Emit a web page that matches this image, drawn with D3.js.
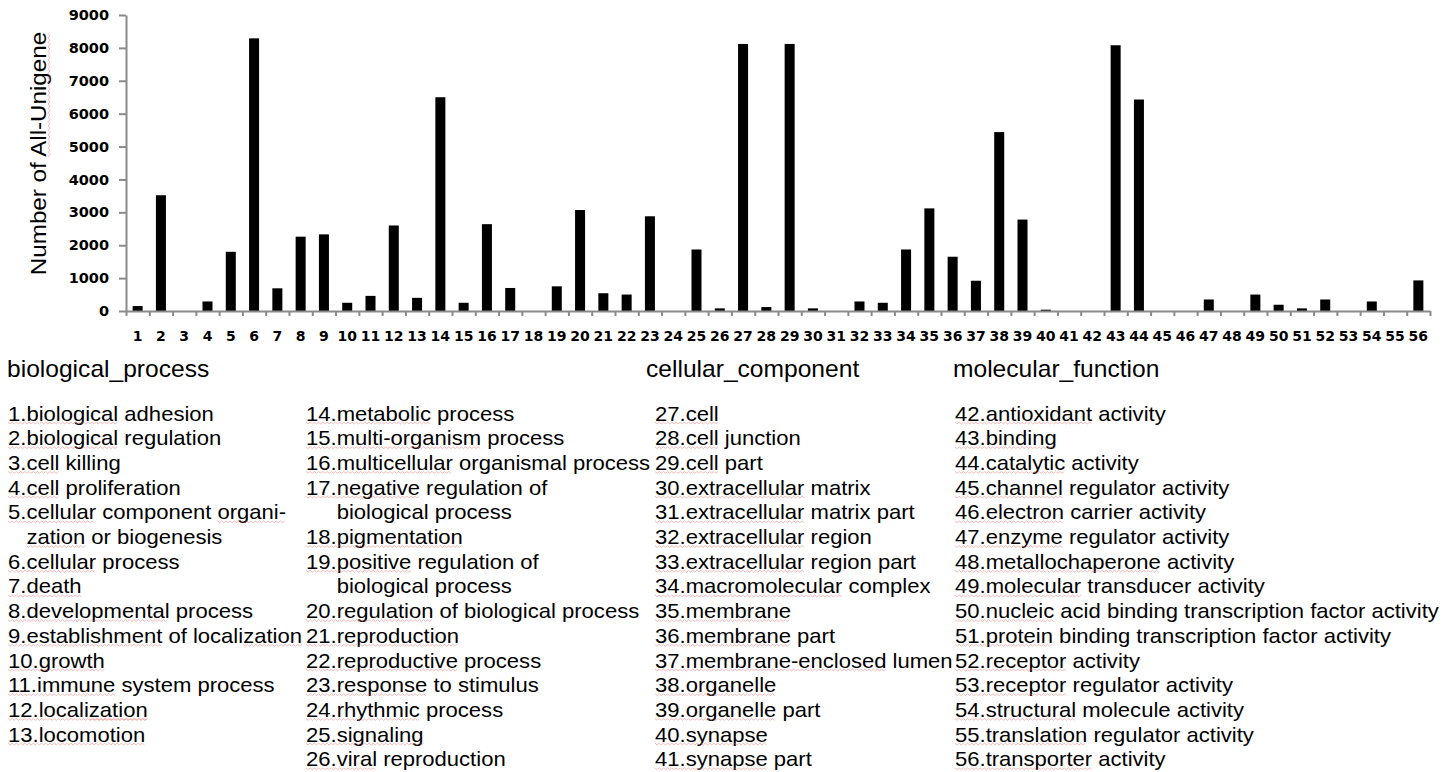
<!DOCTYPE html>
<html><head><meta charset="utf-8">
<script src="https://cdn.jsdelivr.net/npm/d3@7"></script>
<style>body{margin:0;background:#fff} svg{display:block}</style>
</head><body><svg id="c" width="1456" height="772"></svg>
<script>
const categories = d3.range(1, 57).map(String);
const values = [150,3520,0,290,1800,8290,690,2260,2330,250,
                460,2600,400,6500,250,2640,700,0,750,3070,
                540,500,2880,0,1870,80,8120,120,8120,80,
                0,290,250,1870,3120,1650,920,5440,2780,40,
                0,0,8080,6430,0,0,350,0,500,190,
                80,350,0,290,0,930];
const yTicks = [0,1000,2000,3000,4000,5000,6000,7000,8000,9000];
const yLabel = "Number of All-Unigene";
const groupTitles = ["biological_process","cellular_component","molecular_function"];
const bpTerms = ["biological adhesion","biological regulation","cell killing","cell proliferation",
  "cellular component organi-\nzation or biogenesis","cellular process","death","developmental process",
  "establishment of localization","growth","immune system process","localization","locomotion",
  "metabolic process","multi-organism process","multicellular organismal process",
  "negative regulation of\nbiological process","pigmentation","positive regulation of\nbiological process",
  "regulation of biological process","reproduction","reproductive process","response to stimulus",
  "rhythmic process","signaling","viral reproduction"];
const ccTerms = ["cell","cell junction","cell part","extracellular matrix","extracellular matrix part",
  "extracellular region","extracellular region part","macromolecular complex","membrane","membrane part",
  "membrane-enclosed lumen","organelle","organelle part","synapse","synapse part"];
const mfTerms = ["antioxidant activity","binding","catalytic activity","channel regulator activity",
  "electron carrier activity","enzyme regulator activity","metallochaperone activity",
  "molecular transducer activity","nucleic acid binding transcription factor activity",
  "protein binding transcription factor activity","receptor activity","receptor regulator activity",
  "structural molecule activity","translation regulator activity","transporter activity"];
const extraUnderline = ["organi-","zation"];

const svg = d3.select("#c");
const m = {left:126, right:1430, top:15, bottom:311};
const x = d3.scaleBand().domain(categories).range([m.left, m.right]).paddingInner(0.57).paddingOuter(0.285);
const y = d3.scaleLinear().domain([0, 9000]).range([m.bottom, m.top]);
const xb = d3.scaleLinear().domain([0, categories.length]).range([m.left, m.right]);
const axisColor = "#8a8a8a";

// bars
svg.append("g").selectAll("rect").data(values).join("rect")
  .attr("x", (d, i) => x(categories[i]))
  .attr("width", x.bandwidth())
  .attr("y", d => y(d))
  .attr("height", d => y(0) - y(d))
  .attr("fill", "#000");

// y axis
const gy = svg.append("g").attr("transform", `translate(${m.left},0)`)
  .call(d3.axisLeft(y).tickValues(yTicks).tickSize(7).tickSizeOuter(0).tickPadding(10).tickFormat(d3.format("d")));
gy.select(".domain").attr("stroke", axisColor).attr("stroke-width", 2);
gy.selectAll(".tick line").attr("stroke", axisColor).attr("stroke-width", 2);
gy.selectAll(".tick text").attr("font-family", "DejaVu Sans").attr("font-weight", "bold")
  .attr("font-size", 14.5).attr("fill", "#000");

// x axis: ticks at band boundaries
const gxt = svg.append("g").attr("transform", `translate(0,${m.bottom})`)
  .call(d3.axisBottom(xb).tickValues(d3.range(categories.length + 1)).tickSize(5).tickSizeOuter(0).tickFormat(""));
gxt.select(".domain").attr("stroke", axisColor).attr("stroke-width", 2);
gxt.selectAll(".tick line").attr("stroke", axisColor).attr("stroke-width", 2);
// x labels
const gx = svg.append("g").attr("transform", `translate(0,${m.bottom})`)
  .call(d3.axisBottom(x).tickSize(0).tickPadding(20));
gx.select(".domain").remove();
gx.selectAll(".tick text").attr("font-family", "DejaVu Sans").attr("font-weight", "bold")
  .attr("font-size", 14).attr("fill", "#000");

// squiggle helper
function squiggle(g, x0, x1, yy) {
  const pts = [];
  let up = true;
  for (let xx = x0; xx <= x1; xx += 2) { pts.push([xx, yy + (up ? -0.9 : 0.9)]); up = !up; }
  g.append("path").attr("d", d3.line()(pts)).attr("fill", "none")
    .attr("stroke", "#e36b6b").attr("stroke-width", 0.7).attr("opacity", 0.65);
}

// y label
const yl = svg.append("g").attr("transform", "translate(46,153.5) rotate(-90) scale(1.1,1)");
const ylt = yl.append("text").attr("text-anchor", "middle")
  .attr("font-family", "Liberation Sans, Arial, sans-serif").attr("font-size", 22).attr("fill", "#000")
  .text(yLabel);
{
  const node = ylt.node();
  const total = node.getComputedTextLength();
  const idx = yLabel.indexOf("All-Unigene");
  const start = node.getSubStringLength(0, idx) - total / 2;
  const len = node.getSubStringLength(idx, yLabel.length - idx);
  squiggle(yl, start, start + len, 3);
}

// legend
const FONT = "Liberation Sans, Arial, sans-serif";
const headY = 377;
const headings = [{t: groupTitles[0], x: 7}, {t: groupTitles[1], x: 646}, {t: groupTitles[2], x: 953}];
headings.forEach(h => {
  svg.append("g").attr("transform", `translate(${h.x},${headY}) scale(1.07,1)`)
    .append("text").attr("font-family", FONT).attr("font-size", 23).attr("fill", "#000").text(h.t);
});

const columns = [
  {x: 8, items: bpTerms.slice(0, 13), start: 1},
  {x: 306, items: bpTerms.slice(13), start: 14},
  {x: 655, items: ccTerms, start: 27},
  {x: 955, items: mfTerms, start: 42}
];
const row0 = 420.5, rowStep = 24.7, sx = 1.05, fs = 21;

function measure(str) {
  const t = svg.append("text").attr("font-family", FONT).attr("font-size", fs).text(str);
  const w = t.node().getComputedTextLength();
  t.remove();
  return w;
}

columns.forEach(col => {
  let row = 0;
  col.items.forEach((term, i) => {
    const n = col.start + i;
    const prefix = n + ".";
    const lines = term.split("\n");
    const indent = measure(prefix);
    lines.forEach((ln, li) => {
      const str = li === 0 ? prefix + ln : ln;
      const g = svg.append("g")
        .attr("transform", `translate(${col.x + (li === 0 ? 0 : indent * sx)},${row0 + row * rowStep}) scale(${sx},1)`);
      const t = g.append("text").attr("font-family", FONT).attr("font-size", fs).attr("fill", "#000").text(str);
      const node = t.node();
      if (li === 0) {
        const sp = str.indexOf(" ");
        const end = sp < 0 ? str.length : sp;
        squiggle(g, 0, node.getSubStringLength(0, end), 2.5);
      }
      extraUnderline.forEach(w => {
        const idx = str.indexOf(w);
        if (idx >= 0 && !(li === 0 && idx === 0)) {
          const s = node.getSubStringLength(0, idx);
          const l = node.getSubStringLength(idx, w.length);
          squiggle(g, s, s + l, 2.5);
        }
      });
      row++;
    });
  });
});
</script></body></html>
